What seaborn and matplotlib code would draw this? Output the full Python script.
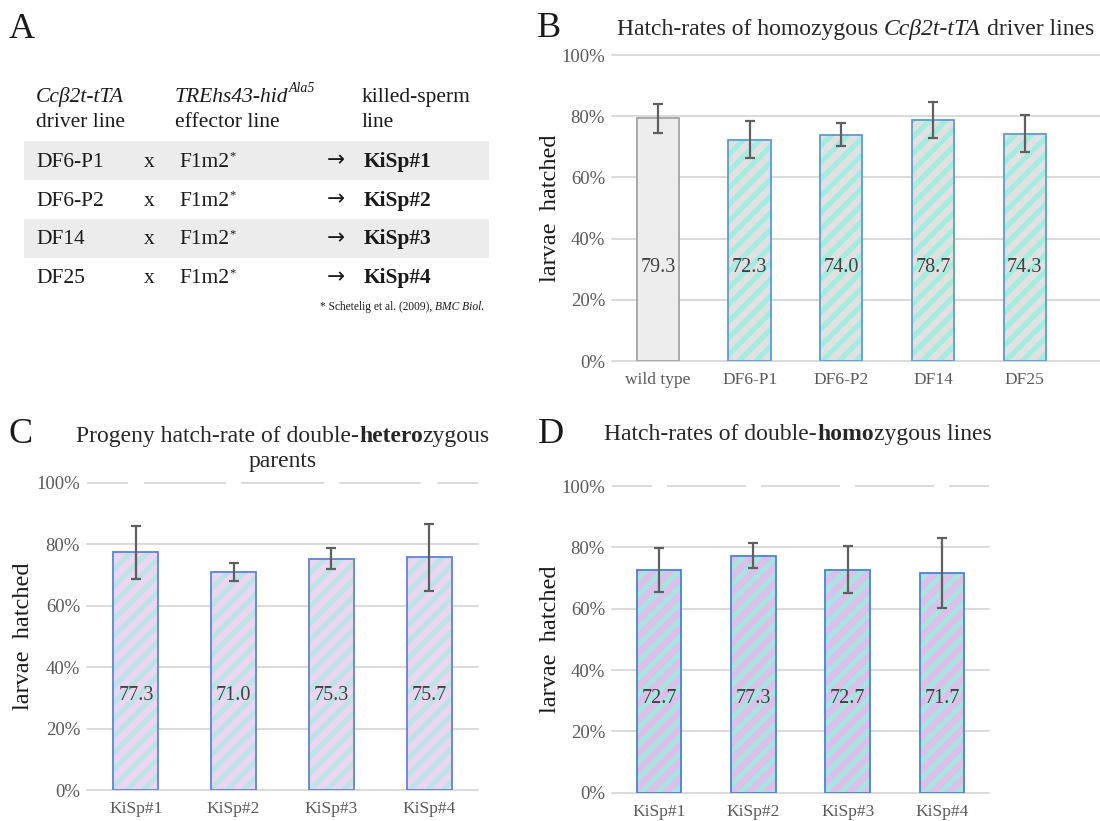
import matplotlib
matplotlib.use("Agg")
import matplotlib.pyplot as plt
import seaborn as sns
from matplotlib.patches import Rectangle

# ---------------- data ----------------
b_lines = ["wild type", "DF6-P1", "DF6-P2", "DF14", "DF25"]
b_rates = [79.3, 72.3, 74.0, 78.7, 74.3]
b_sd = [4.7, 6.0, 3.7, 5.8, 6.0]

c_lines = ["KiSp#1", "KiSp#2", "KiSp#3", "KiSp#4"]
c_rates = [77.3, 71.0, 75.3, 75.7]
c_sd = [8.6, 3.0, 3.5, 10.8]

d_lines = ["KiSp#1", "KiSp#2", "KiSp#3", "KiSp#4"]
d_rates = [72.7, 77.3, 72.7, 71.7]
d_sd = [7.2, 4.1, 7.6, 11.5]

yticks = [0, 20, 40, 60, 80, 100]
ytick_labels = [f"{t}%" for t in yticks]

driver_lines = ["DF6-P1", "DF6-P2", "DF14", "DF25"]
effector_line = "F1m2"
kisp_lines = ["KiSp#1", "KiSp#2", "KiSp#3", "KiSp#4"]

# ---------------- style ----------------
sns.set_style("white")
HATCH_LW = 3.7
plt.rcParams.update({
    "font.family": ["Liberation Serif", "DejaVu Serif"],
    "hatch.linewidth": HATCH_LW,
})

W, H = 1100, 821
fig = plt.figure(figsize=(11, 8.21), dpi=100)
renderer = fig.canvas.get_renderer()


def fx(x):
    return x / W


def fy(y):
    return 1 - y / H


def axrect(l, r, t, b):
    return [l / W, 1 - b / H, (r - l) / W, (b - t) / H]


def text_width(s, size, **kw):
    t = fig.text(0, 0, s, fontsize=size, **kw)
    w = t.get_window_extent(renderer).width
    t.remove()
    return w


def rich(x, y, pieces, size, color, ha="left"):
    """pieces: list of (text, style dict); y is the baseline in px from top."""
    items = []
    total = 0.0
    for s, kw in pieces:
        kw = dict(kw)
        dy = kw.pop("dy", 0)
        sz = kw.pop("size", size)
        lead = len(s) - len(s.lstrip(" "))
        trail = len(s) - len(s.rstrip(" "))
        core = s.strip(" ")
        sp = text_width("x x", sz, **kw) - text_width("xx", sz, **kw)
        total += lead * sp
        w = text_width(core, sz, **kw) if core else 0.0
        items.append((core, kw, sz, dy, total))
        total += w + trail * sp
    if ha == "center":
        x0 = x - total / 2
    elif ha == "right":
        x0 = x - total
    else:
        x0 = x
    for core, kw, sz, dy, off in items:
        if core:
            fig.text(fx(x0 + off), fy(y - dy), core, fontsize=sz, color=color,
                     ha="left", va="baseline", **kw)


GRID = "#d9d9d9"
TICK = "#595959"


def draw_panel(ax, cats, vals, errs, faces, stripes, edges, width,
               xright, gapped_top, ylab_x):
    n = len(cats)
    sns.barplot(x=cats, y=vals, hue=cats, palette=faces, legend=False,
                width=width, linewidth=0, saturation=1, errorbar=None,
                ax=ax, zorder=2)
    for p, s in zip(ax.patches, stripes):
        if s is not None:
            p.set_hatch("//")
            p.set_edgecolor(s)
            p.set_linewidth(0)
            if hasattr(p, "set_hatch_linewidth"):
                p.set_hatch_linewidth(HATCH_LW)
    sns.barplot(x=cats, y=vals, hue=cats, palette=edges, legend=False,
                width=width, fill=False, linewidth=1.3, saturation=1,
                errorbar=None, ax=ax, zorder=3)
    ax.errorbar(x=list(range(n)), y=vals, yerr=errs, fmt="none",
                ecolor="#5f5f5f", elinewidth=1.6, capsize=3.8,
                capthick=1.6, zorder=5)
    for i, v in enumerate(vals):
        ax.text(i, 30.7, f"{v:.1f}", ha="center", va="center",
                fontsize=14.5, color="#404040", zorder=6)
    ax.set_ylim(0, 100)
    ax.set_xlim(-0.5, xright)
    ax.set_yticks(yticks)
    ax.set_yticklabels(ytick_labels)
    ax.set_axisbelow(True)
    ax.grid(axis="y", color=GRID, linewidth=1.4)
    ax.grid(axis="x", visible=False)
    for gl in ax.get_ygridlines():
        gl.set_clip_on(False)
    if gapped_top:
        ax.get_ygridlines()[-1].set_visible(False)
        starts = [-0.5] + [i + 0.08 for i in range(n)]
        ends = [i - 0.08 for i in range(n)] + [n - 0.5]
        ax.hlines([100] * len(starts), starts, ends, color=GRID,
                  linewidth=1.4, clip_on=False, zorder=1)
    ax.tick_params(axis="y", length=0, labelsize=13.5, colors=TICK, pad=5)
    ax.tick_params(axis="x", length=0, labelsize=12.5, colors=TICK, pad=8)
    ax.set_xlabel("")
    ax.set_ylabel("larvae  hatched", fontsize=17.5, color="#1a1a1a",
                  va="center")
    ax.yaxis.set_label_coords(ylab_x, 0.5)
    sns.despine(ax=ax, left=True, bottom=True)


# ---------------- panel B ----------------
axB = fig.add_axes(axrect(612, 1100, 55, 361))
draw_panel(axB, b_lines, b_rates, b_sd,
           faces=["#ededed"] + ["#e1e1e1"] * 4,
           stripes=[None] + ["#a3ece0"] * 4,
           edges=["#a3a3a3"] + ["#5b9bd5"] * 4,
           width=0.46, xright=4.82, gapped_top=False,
           ylab_x=(550 - 612) / 488)

# ---------------- panel C ----------------
axC = fig.add_axes(axrect(87, 478, 482.7, 790))
draw_panel(axC, c_lines, c_rates, c_sd,
           faces=["#ebd6f1"] * 4,
           stripes=["#bde3e6"] * 4,
           edges=["#5f82d4"] * 4,
           width=0.46, xright=3.5, gapped_top=True,
           ylab_x=(24 - 87) / 391)

# ---------------- panel D ----------------
axD = fig.add_axes(axrect(612, 989, 486, 792.7))
draw_panel(axD, d_lines, d_rates, d_sd,
           faces=["#dbc0ec"] * 4,
           stripes=["#a8e5e0"] * 4,
           edges=["#4a83cc"] * 4,
           width=0.47, xright=3.5, gapped_top=True,
           ylab_x=(551 - 612) / 377)

# ---------------- titles and panel letters ----------------
TITLE = "#262626"
TS = 17
IT = {"fontstyle": "italic"}
BF = {"fontweight": "bold"}
rich(617, 35, [("Hatch-rates of homozygous ", {}), ("Ccβ2t-tTA", IT),
               (" driver lines", {})], TS, TITLE)
rich(283, 441.5, [("Progeny hatch-rate of double-", {}), ("hetero", BF),
                  ("zygous", {})], TS, TITLE, ha="center")
rich(283, 466.5, [("parents", {})], TS, TITLE, ha="center")
rich(798, 440, [("Hatch-rates of double-", {}), ("homo", BF),
                ("zygous lines", {})], TS, TITLE, ha="center")

for letter, x, y in [("A", 22, 38), ("B", 549, 37), ("C", 21, 443), ("D", 551, 443)]:
    fig.text(fx(x), fy(y), letter, fontsize=26, color="#1a1a1a",
             ha="center", va="baseline")

# ---------------- panel A (table) ----------------
TXT = "#1a1a1a"
FS = 15.5
for yy in (141, 219):
    fig.patches.append(Rectangle((fx(24), fy(yy + 39)), (489 - 24) / W, 39 / H,
                                 transform=fig.transFigure, facecolor="#ececec",
                                 edgecolor="none", zorder=0))

rich(36, 101.7, [("Ccβ2t-tTA", IT)], FS, TXT)
rich(36, 126.7, [("driver line", {})], FS, TXT)
rich(175, 101.7, [("TREhs43-hid", IT), ("Ala5", {"fontstyle": "italic", "size": 10, "dy": 10})],
     FS, TXT)
rich(175, 126.7, [("effector line", {})], FS, TXT)
rich(362, 101.7, [("killed-sperm", {})], FS, TXT)
rich(362, 126.7, [("line", {})], FS, TXT)

row_base = [166.7, 205.7, 244.3, 283.3]
for drv, ks, yy in zip(driver_lines, kisp_lines, row_base):
    rich(36, yy, [(drv, {})], FS, TXT)
    rich(144, yy, [("x", {})], FS, TXT)
    rich(179, yy, [(effector_line, {}), ("*", {"size": 9, "dy": 7})], FS, TXT)
    rich(327, yy, [("→", {"family": "DejaVu Sans"})], FS, TXT)
    rich(364, yy, [(ks, BF)], FS, TXT)

rich(484, 310, [("* Schetelig et al. (2009), ", {}), ("BMC Biol.", IT)],
     8.3, TXT, ha="right")

fig.savefig("out.png", dpi=100)
